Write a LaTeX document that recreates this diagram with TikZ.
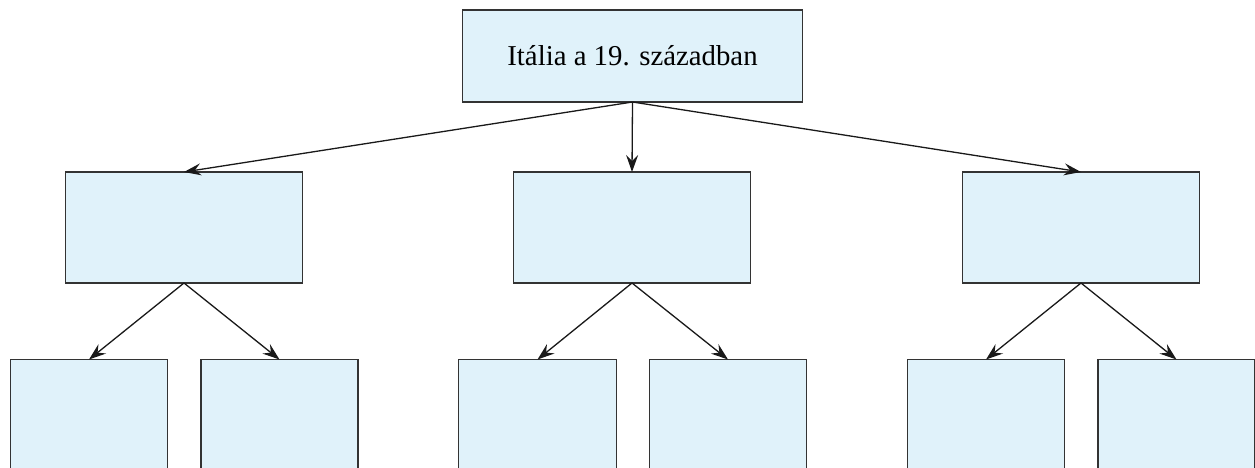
\documentclass[tikz,border=0pt]{standalone}
\usepackage{fontspec}
\setmainfont{Liberation Serif}
\usetikzlibrary{arrows.meta}
\definecolor{boxfill}{HTML}{E0F2FA}
\definecolor{boxline}{HTML}{333333}
\tikzset{
  box/.style={draw=boxline, fill=boxfill, line width=1.4pt, inner sep=0pt, outer sep=0pt, anchor=north west},
  arr/.style={draw=black!90, line width=1.3pt, -{Stealth[length=17pt,width=12pt,inset=6pt]}}
}
\begin{document}
\begin{tikzpicture}[x=1pt,y=-1pt]
\useasboundingbox (0,0) rectangle (1255,468);
\clip (0,0) rectangle (1255,468);
% top
\node[box, minimum width=340pt, minimum height=92pt] (top) at (462.5,10) {};
\node[font=\fontsize{28.8}{34}\selectfont] (title) at (top.center) {Itália a 19. században};
% middle
\node[box, minimum width=237pt, minimum height=111pt] (m1) at (65.5,172) {};
\node[box, minimum width=237pt, minimum height=111pt] (m2) at (513.5,172) {};
\node[box, minimum width=237pt, minimum height=111pt] (m3) at (962.5,172) {};
% bottom
\node[box, minimum width=157pt, minimum height=150pt] (b1) at (10.5,359.5) {};
\node[box, minimum width=157pt, minimum height=150pt] (b2) at (201,359.5) {};
\node[box, minimum width=158pt, minimum height=150pt] (b3) at (458.5,359.5) {};
\node[box, minimum width=157pt, minimum height=150pt] (b4) at (649.5,359.5) {};
\node[box, minimum width=157pt, minimum height=150pt] (b5) at (907.5,359.5) {};
\node[box, minimum width=157pt, minimum height=150pt] (b6) at (1098,359.5) {};
% arrows
\draw[arr] (top.south) -- (m1.north);
\draw[arr] (top.south) -- (m2.north);
\draw[arr] (top.south) -- (m3.north);
\draw[arr] (m1.south) -- (b1.north);
\draw[arr] (m1.south) -- (b2.north);
\draw[arr] (m2.south) -- (b3.north);
\draw[arr] (m2.south) -- (b4.north);
\draw[arr] (m3.south) -- (b5.north);
\draw[arr] (m3.south) -- (b6.north);
\end{tikzpicture}
\end{document}
